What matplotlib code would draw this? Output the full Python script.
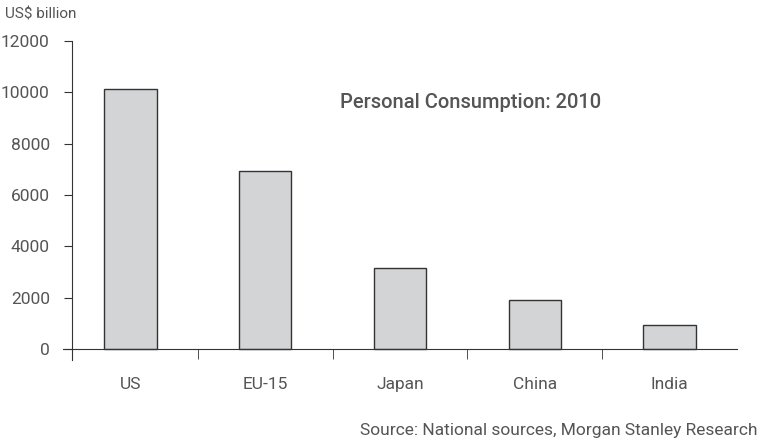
#!/usr/bin/env python3

import matplotlib.pyplot as plt
import numpy as np

# values (US$ billion, 2010)
COUNTRIES = ["US", "EU-15", "Japan", "China", "India"]
CONSUMPTION = [10130, 6950, 3140, 1890, 920]
Y_TICKS = [0, 2000, 4000, 6000, 8000, 10000, 12000]

TEXT_COLOR = "#555555"
plt.rcParams["font.family"] = ["Roboto", "DejaVu Sans"]

fig = plt.figure(figsize=(7.7, 4.43), dpi=100)
ax = fig.add_axes([63 / 770, 83 / 443, 674 / 770, 319 / 443])

x = np.arange(len(COUNTRIES))
ax.bar(x, CONSUMPTION, width=0.39, color="#d3d4d6", edgecolor="#333333", linewidth=1.0)

ax.set_xlim(-0.5, len(COUNTRIES) - 0.5)
ax.set_ylim(-430, 12000)

for s in ["top", "right"]:
    ax.spines[s].set_visible(False)
ax.spines["bottom"].set_position(("data", 0))
ax.spines["left"].set_position(("data", -0.433))
ax.spines["bottom"].set_color("#333333")
ax.spines["left"].set_color("#333333")

ax.set_yticks(Y_TICKS)
ax.set_yticklabels([str(v) for v in Y_TICKS], fontsize=12.5, color=TEXT_COLOR)
ax.tick_params(axis="y", length=6, color="#333333", pad=10)

ax.set_xticks(x)
ax.set_xticklabels(COUNTRIES, fontsize=12.5, color=TEXT_COLOR)
ax.set_xticks(x[:-1] + 0.5, minor=True)
ax.tick_params(axis="x", which="major", length=0, pad=20)
ax.tick_params(axis="x", which="minor", length=7, direction="out", color="#333333")

fig.text(5 / 770, 1 - 14 / 443, "US$ billion", fontsize=11, color=TEXT_COLOR, va="center")
fig.text(340 / 770, 1 - 102 / 443, "Personal Consumption: 2010", fontsize=14.5,
         fontweight="medium", color=TEXT_COLOR, va="center")
fig.text(757 / 770, 1 - 431 / 443, "Source: National sources, Morgan Stanley Research",
         fontsize=12.5, color=TEXT_COLOR, ha="right", va="center")

plt.savefig("out.png", dpi=100)
